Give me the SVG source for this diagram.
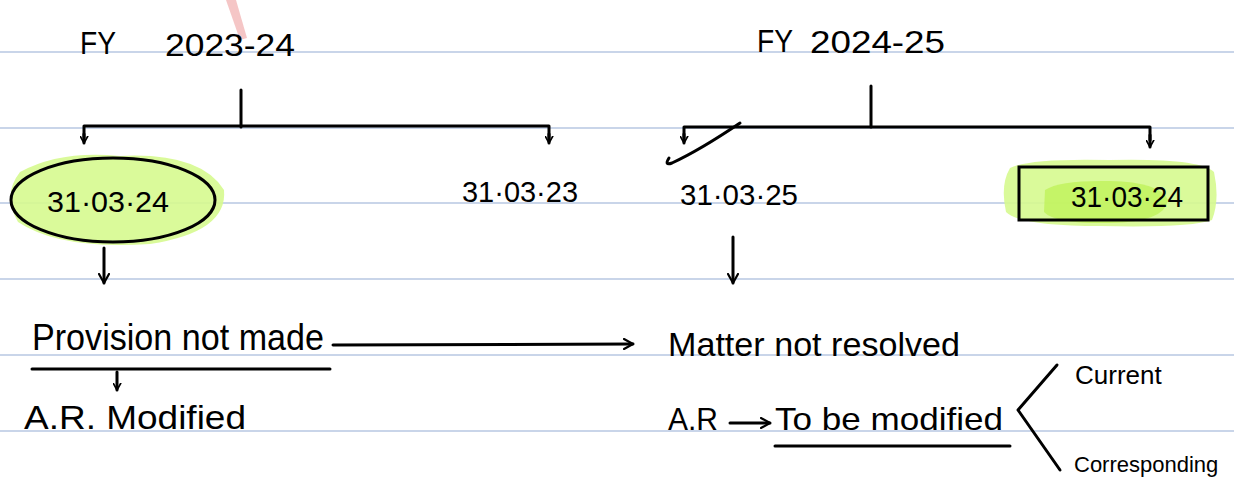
<svg xmlns="http://www.w3.org/2000/svg" width="1234" height="493" viewBox="0 0 1234 493">
<defs>
<style>
.rule{stroke:#b7c7e2;stroke-width:1.5}
.ln{stroke:#000;stroke-width:3;fill:none;stroke-linecap:round;stroke-linejoin:round}
.t{font-family:"Liberation Sans",Arial,sans-serif;fill:#000}
.hl{fill:#d6f98f;opacity:0.9}
.hl2{fill:#bff25a;opacity:0.8}
</style>
<marker id="ah" viewBox="0 0 12 12" refX="10" refY="6" markerWidth="12" markerHeight="12" markerUnits="userSpaceOnUse" orient="auto">
<path d="M1,1 L10,6 L1,11" fill="none" stroke="#000" stroke-width="2.2" stroke-linecap="round" stroke-linejoin="round"/>
</marker>
<marker id="ahs" viewBox="0 0 12 12" refX="10" refY="6" markerWidth="9" markerHeight="9" markerUnits="userSpaceOnUse" orient="auto">
<path d="M1,1 L10,6 L1,11" fill="none" stroke="#000" stroke-width="2.2" stroke-linecap="round" stroke-linejoin="round"/>
</marker>
</defs>
<rect width="1234" height="493" fill="#fff"/>
<g id="rules">
<line class="rule" x1="0" y1="52" x2="1234" y2="52"/>
<line class="rule" x1="0" y1="128" x2="1234" y2="128"/>
<line class="rule" x1="0" y1="203" x2="1234" y2="203"/>
<line class="rule" x1="0" y1="279" x2="1234" y2="279"/>
<line class="rule" x1="0" y1="355" x2="1234" y2="355"/>
<line class="rule" x1="0" y1="431" x2="1234" y2="431"/>
</g>
<path d="M226,0 L236,0 L247,38 L240,40 Z" fill="#f2b8b8" opacity="0.8"/>
<g id="fy1">
<text class="t" x="80" y="54" font-size="32" textLength="36" lengthAdjust="spacingAndGlyphs">FY</text>
<text class="t" x="165" y="56" font-size="32" textLength="130" lengthAdjust="spacingAndGlyphs">2023-24</text>
</g>
<g id="fy2">
<text class="t" x="757" y="52" font-size="32" textLength="36" lengthAdjust="spacingAndGlyphs">FY</text>
<text class="t" x="810" y="53" font-size="32" textLength="135" lengthAdjust="spacingAndGlyphs">2024-25</text>
</g>
<g id="d1">
<path class="hl" d="M20,172 Q60,150 120,156 Q200,152 224,190 Q228,232 150,244 Q60,250 18,222 Q2,195 20,172 Z"/>
<ellipse cx="113" cy="200" rx="102" ry="42" fill="none" stroke="#000" stroke-width="3"/>
<text class="t" x="47" y="212" font-size="30" textLength="122" lengthAdjust="spacingAndGlyphs">31·03·24</text>
</g>
<g id="d2">
<text class="t" x="462" y="202" font-size="30" textLength="116" lengthAdjust="spacingAndGlyphs">31·03·23</text>
</g>
<g id="d3">
<text class="t" x="680" y="205" font-size="30" textLength="118" lengthAdjust="spacingAndGlyphs">31·03·25</text>
</g>
<g id="d4">
<path class="hl" d="M1010,168 Q1030,158 1110,160 Q1200,158 1214,172 Q1220,200 1212,220 Q1190,228 1100,226 Q1020,226 1006,212 Q1000,185 1010,168 Z"/>
<path class="hl2" d="M1045,190 Q1060,180 1110,181 Q1160,182 1168,200 Q1165,222 1110,223 Q1055,224 1044,212 Z"/>
<rect x="1019" y="167" width="189" height="53" fill="none" stroke="#000" stroke-width="3"/>
<text class="t" x="1071" y="207" font-size="30" textLength="112" lengthAdjust="spacingAndGlyphs">31·03·24</text>
</g>
<g id="n1">
<text class="t" x="32" y="350" font-size="36" textLength="292" lengthAdjust="spacingAndGlyphs">Provision not made</text>
<line class="ln" x1="32" y1="369" x2="330" y2="369"/>
</g>
<g id="n2">
<text class="t" x="24" y="429" font-size="34" textLength="222" lengthAdjust="spacingAndGlyphs">A.R. Modified</text>
</g>
<g id="n3">
<text class="t" x="668" y="356" font-size="34" textLength="292" lengthAdjust="spacingAndGlyphs">Matter not resolved</text>
</g>
<g id="n4">
<text class="t" x="668" y="430" font-size="32" textLength="50" lengthAdjust="spacingAndGlyphs">A.R</text>
<text class="t" x="775" y="430" font-size="32" textLength="228" lengthAdjust="spacingAndGlyphs">To be modified</text>
<line class="ln" x1="775" y1="446" x2="1010" y2="446"/>
</g>
<g id="n5">
<text class="t" x="1075" y="384" font-size="26">Current</text>
</g>
<g id="n6">
<text class="t" x="1074" y="472" font-size="22">Corresponding</text>
</g>
<g id="connectors">
<line class="ln" x1="241" y1="90" x2="241" y2="127"/>
<polyline class="ln" points="84,138 84,126 549,126 549,138"/>
<line class="ln" x1="84" y1="134" x2="84" y2="143" marker-end="url(#ahs)"/>
<line class="ln" x1="549" y1="134" x2="549" y2="143" marker-end="url(#ahs)"/>
<line class="ln" x1="871" y1="86" x2="871" y2="127"/>
<polyline class="ln" points="684,138 684,127 1150,127 1150,140"/>
<line class="ln" x1="684" y1="134" x2="684" y2="143" marker-end="url(#ahs)"/>
<line class="ln" x1="1150" y1="135" x2="1150" y2="147" marker-end="url(#ahs)"/>
<path class="ln" d="M740,123 Q700,150 672,163 Q664,166 669,158"/>
<line class="ln" x1="104" y1="248" x2="104" y2="283" marker-end="url(#ah)"/>
<line class="ln" x1="733" y1="237" x2="733" y2="283" marker-end="url(#ah)"/>
<line class="ln" x1="333" y1="345" x2="633" y2="344" marker-end="url(#ah)"/>
<line class="ln" x1="117" y1="372" x2="117" y2="390" marker-end="url(#ahs)"/>
<line class="ln" x1="730" y1="423" x2="770" y2="423" marker-end="url(#ah)"/>
<polyline class="ln" points="1057,365 1018,410 1060,470"/>
</g>
</svg>
